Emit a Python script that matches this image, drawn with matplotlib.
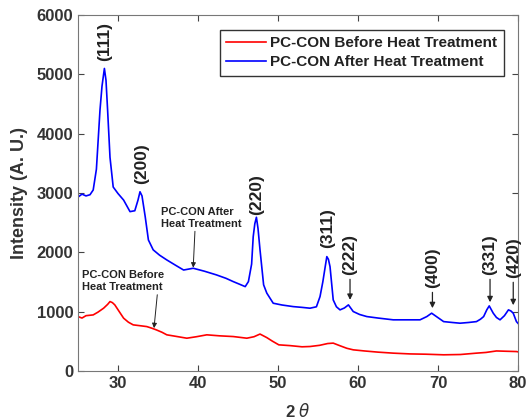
import matplotlib.pyplot as plt

plt.rcParams['font.family'] = ['Liberation Sans', 'DejaVu Sans']

# 2-theta / intensity points
before_x = [25.0, 25.5, 26.0, 26.9, 27.5, 28.2, 28.7, 29.0, 29.3, 29.6, 30.1, 30.7, 31.3,
            31.9, 32.8, 33.6, 34.2, 34.8, 35.5, 36.1, 37.3, 38.6, 39.8, 41.1, 42.7, 44.4,
            45.2, 46.1, 47.0, 47.75, 48.6, 49.3, 50.1, 51.5, 53.0, 54.0, 55.2, 56.2, 56.9,
            57.8, 58.6, 59.4, 60.8, 62.5, 64.4, 66.5, 68.5, 70.7, 72.8, 74.8, 76.0, 77.3,
            78.5, 79.8, 80.0]
before_y = [915, 890, 930, 943, 990, 1056, 1120, 1168, 1150, 1112, 1010, 888, 820,
            775, 760, 746, 720, 690, 650, 607, 580, 550, 575, 607, 590, 578,
            565, 550, 575, 620, 560, 500, 438, 425, 405, 410, 430, 460, 467,
            420, 380, 354, 335, 315, 298, 285, 280, 270, 275, 298, 310, 335,
            330, 325, 320]

after_x = [25.0, 25.5, 26.0, 26.5, 26.9, 27.3, 27.75, 28.0, 28.3, 28.5, 28.7, 29.0, 29.4,
           30.0, 30.7, 31.5, 32.1, 32.5, 32.75, 33.0, 33.4, 33.8, 34.4, 35.2, 36.1, 37.2,
           38.2, 39.4, 40.8, 42.3, 43.5, 44.4, 45.2, 45.9, 46.3, 46.7, 46.9, 47.1, 47.3,
           47.5, 47.75, 48.2, 48.6, 49.4, 50.5, 51.9, 53.0, 54.0, 54.8, 55.25, 55.6, 55.9,
           56.1, 56.3, 56.5, 56.9, 57.3, 57.75, 58.3, 58.8, 59.4, 60.2, 61.1, 62.5, 64.4,
           66.0, 67.75, 68.6, 69.2, 69.8, 70.7, 71.8, 72.75, 73.8, 74.8, 75.3, 75.7, 76.1,
           76.4, 76.9, 77.3, 77.75, 78.3, 78.8, 79.1, 79.4, 79.8, 80.0]
after_y = [2930, 2980, 2950, 2970, 3050, 3400, 4400, 4800, 5100, 4900, 4400, 3600, 3100,
           2990, 2880, 2685, 2700, 2880, 3020, 2950, 2600, 2207, 2040, 1950, 1870, 1780,
           1700, 1730, 1680, 1618, 1560, 1505, 1460, 1420, 1505, 1800, 2263, 2480, 2590,
           2400, 2040, 1450, 1310, 1140, 1110, 1083, 1070, 1056, 1080, 1252, 1500, 1757,
           1926, 1880, 1757, 1196, 1080, 1028, 1060, 1112, 1000, 950, 915, 890, 860,
           860, 860, 915, 972, 915, 830, 815, 803, 815, 830, 870, 915, 1030,
           1095, 972, 900, 860, 930, 1028, 1010, 972, 830, 800]

peak_labels = ['(111)', '(200)', '(220)', '(311)', '(222)', '(400)', '(331)', '(420)']
peak_x = [28.3, 32.9, 47.3, 56.2, 59.0, 69.3, 76.5, 79.4]
peak_label_y = [5220, 3150, 2620, 2070, 1620, 1400, 1620, 1570]
arrow_tip_y = [None, None, None, None, 1150, 1010, 1110, 1060]

fig = plt.figure(figsize=(5.27, 4.19), dpi=100)
ax = fig.add_axes([0.148, 0.115, 0.835, 0.849])

ax.plot(before_x, before_y, color='red', lw=1.2, label='PC-CON Before Heat Treatment')
ax.plot(after_x, after_y, color='blue', lw=1.2, label='PC-CON After Heat Treatment')

for lab, px, ly, tip in zip(peak_labels, peak_x, peak_label_y, arrow_tip_y):
    ax.text(px, ly, lab, rotation=90, ha='center', va='bottom', fontsize=12.5,
            fontweight='bold', color='#222222')
    if tip is not None:
        ax.annotate('', xy=(px, tip), xytext=(px, ly - 30),
                    arrowprops=dict(arrowstyle='-|>', color='#222222', lw=0.9,
                                    mutation_scale=8))

ax.annotate('PC-CON After\nHeat Treatment', xy=(39.4, 1740), xytext=(35.4, 2400),
            fontsize=8, fontweight='bold', color='#222222', ha='left', va='bottom',
            arrowprops=dict(arrowstyle='-|>', color='#222222', lw=0.7, mutation_scale=7,
                            shrinkA=0, shrinkB=0, relpos=(0.42, 0)))
ax.annotate('PC-CON Before\nHeat Treatment', xy=(34.5, 720), xytext=(25.5, 1330),
            fontsize=8, fontweight='bold', color='#222222', ha='left', va='bottom',
            arrowprops=dict(arrowstyle='-|>', color='#222222', lw=0.7, mutation_scale=7,
                            shrinkA=0, shrinkB=0, relpos=(0.92, 0)))

ax.set_xlim(25, 80)
ax.set_ylim(0, 6000)
ax.set_xticks([30, 40, 50, 60, 70, 80])
ax.set_yticks(range(0, 6001, 1000))
ax.tick_params(direction='in', top=True, right=True, labelsize=12, colors='#444444',
               labelcolor='#333333', length=4)
for lbl in ax.get_xticklabels() + ax.get_yticklabels():
    lbl.set_fontweight('bold')
for sp in ax.spines.values():
    sp.set_color('#777777')

ax.set_ylabel('Intensity (A. U.)', fontsize=13, fontweight='bold', color='#333333',
              labelpad=6)
ax.set_xlabel(r'2 $\theta$', fontsize=12, fontweight='bold', color='#333333', labelpad=8)

leg = ax.legend(loc='upper right', bbox_to_anchor=(0.967, 0.958),
                prop={'weight': 'bold', 'size': 11}, fancybox=False, framealpha=1,
                edgecolor='#333333', handlelength=2.6, handletextpad=0.3,
                borderpad=0.4, labelspacing=0.35, borderaxespad=0)
leg.get_frame().set_linewidth(1.0)
for t in leg.get_texts():
    t.set_color('#222222')

fig.savefig('out.png', dpi=100)
